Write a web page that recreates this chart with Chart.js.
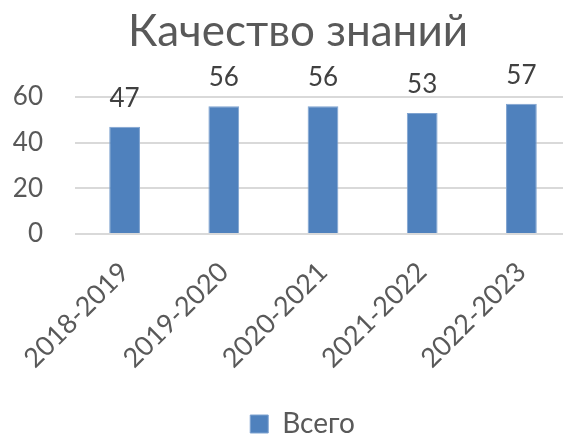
<!DOCTYPE html>
<html>
<head>
<meta charset="utf-8">
<script src="https://cdn.jsdelivr.net/npm/chart.js@4"></script>
<style>
  html, body { margin: 0; padding: 0; background: #fff; overflow: hidden; }
  #wrap { width: 563px; height: 438px; overflow: hidden; }
</style>
</head>
<body>
<div id="wrap"><canvas id="qualityChart" width="596" height="448"></canvas></div>
<script>
const years = ['2018-2019', '2019-2020', '2020-2021', '2021-2022', '2022-2023'];
const totalValues = [47, 56, 56, 53, 57];
const yTicks = [0, 20, 40, 60];

const FONT = 'Lato, "Noto Sans", sans-serif';

// simple value labels above the bars (no datalabels plugin offline)
const valueLabels = {
    id: 'valueLabels',
    afterDatasetsDraw(chart) {
        const ctx = chart.ctx;
        ctx.save();
        ctx.font = '26px ' + FONT;
        ctx.fillStyle = '#404040';
        ctx.textAlign = 'center';
        ctx.textBaseline = 'alphabetic';
        chart.getDatasetMeta(0).data.forEach((bar, i) => {
            ctx.fillText(chart.data.datasets[0].data[i], bar.x, bar.y - 20);
        });
        ctx.restore();
    }
};

// title and legend sit centred on the whole (uncropped) chart, not on the plot
const shiftBlocks = {
    id: 'shiftBlocks',
    afterLayout(chart) {
        if (chart.titleBlock) { chart.titleBlock.left += 12.5; chart.titleBlock.right += 12.5; }
        if (chart.legend) { chart.legend.left += 17; chart.legend.right += 17; }
    }
};

const ctx = document.getElementById('qualityChart').getContext('2d');
new Chart(ctx, {
    type: 'bar',
    data: {
        labels: years,
        datasets: [
            { label: 'Всего', data: totalValues, backgroundColor: '#4F81BD', borderColor: '#7FA3D0', borderWidth: 1,
              categoryPercentage: 1, barPercentage: 0.31 }
        ]
    },
    options: {
        responsive: false,
        animation: false,
        devicePixelRatio: 1,
        layout: { padding: { left: 0, right: 25, top: 0, bottom: 0 } },
        scales: {
            x: {
                grid: { display: false },
                border: { display: false },
                ticks: {
                    minRotation: 45, maxRotation: 45,
                    padding: 14,
                    color: '#595959',
                    font: { family: FONT, size: 27 }
                },
                afterFit(scale) { scale.height = 166; }
            },
            y: {
                min: 0,
                max: 60,
                border: { display: false },
                grid: { color: '#D9D9D9', lineWidth: 2, drawTicks: false },
                afterBuildTicks(scale) { scale.ticks = yTicks.map(v => ({ value: v })); },
                ticks: {
                    padding: 32,
                    color: '#595959',
                    font: { family: FONT, size: 26 }
                },
                afterFit(scale) { scale.width = 75; }
            }
        },
        plugins: {
            title: {
                display: true,
                text: 'Качество знаний',
                color: '#595959',
                font: { family: FONT, size: 44, weight: 'normal' },
                padding: { top: 5, bottom: 39.2 }
            },
            legend: {
                position: 'bottom',
                labels: {
                    boxWidth: 18, boxHeight: 18,
                    padding: 10,
                    color: '#595959',
                    font: { family: FONT, size: 28 }
                }
            },
            tooltip: { enabled: false }
        }
    },
    plugins: [valueLabels, shiftBlocks]
});
</script>
</body>
</html>
